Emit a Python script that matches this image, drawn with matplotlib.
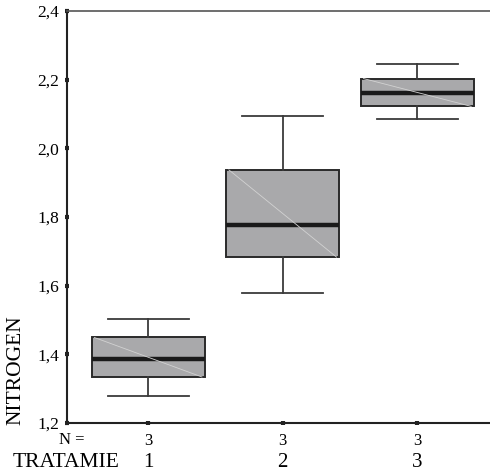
import matplotlib
matplotlib.use("Agg")
import matplotlib.pyplot as plt
import matplotlib.transforms as mtransforms

# boxplot values (SPSS style)
groups = ["1", "2", "3"]
n_counts = ["3", "3", "3"]
whisker_low = [1.28, 1.58, 2.084]
box_low = [1.334, 1.683, 2.122]
medians = [1.387, 1.778, 2.162]
box_high = [1.449, 1.937, 2.203]
whisker_high = [1.504, 2.095, 2.244]
y_ticks = [1.2, 1.4, 1.6, 1.8, 2.0, 2.2, 2.4]

plt.rcParams['font.family'] = ['Liberation Serif', 'DejaVu Serif']

fig = plt.figure(figsize=(4.9, 4.74), dpi=100)
ax = fig.add_axes([0.137, 0.1076, 0.863, 0.8694])

stats = []
for i, g in enumerate(groups):
    stats.append({
        'label': g,
        'whislo': whisker_low[i],
        'q1': box_low[i],
        'med': medians[i],
        'q3': box_high[i],
        'whishi': whisker_high[i],
        'fliers': [],
    })

positions = list(range(1, len(groups) + 1))
ax.bxp(stats, positions=positions, widths=0.84, patch_artist=True,
       showfliers=False,
       boxprops=dict(facecolor='#a9a9ab', edgecolor='#2a2a2a', linewidth=1.4),
       medianprops=dict(color='#1a1a1a', linewidth=3.2),
       whiskerprops=dict(color='#3a3a3a', linewidth=1.3),
       capprops=dict(color='#3a3a3a', linewidth=1.3),
       capwidths=0.6)

# faint diagonal line inside each box
for i, p in enumerate(positions):
    ax.plot([p - 0.4, p + 0.4], [box_high[i], box_low[i]],
            color='#d2d2d2', linewidth=0.6, zorder=3)

ax.set_xlim(0.398, 3.54)
ax.set_ylim(1.2, 2.4)
ax.set_yticks(y_ticks)
ax.set_yticklabels([f"{v:.1f}".replace('.', ',') for v in y_ticks], fontsize=12.5)
ax.set_xticks(positions)
ax.set_xticklabels(n_counts, fontsize=12)

ax.tick_params(axis='both', direction='inout', length=3, width=3,
               color='#222222')
ax.tick_params(axis='y', pad=4)
ax.tick_params(axis='x', pad=6)

ax.spines['right'].set_visible(False)
ax.spines['top'].set_color('#555555')
ax.spines['top'].set_linewidth(1.2)
ax.spines['left'].set_color('#222222')
ax.spines['left'].set_linewidth(1.5)
ax.spines['bottom'].set_color('#222222')
ax.spines['bottom'].set_linewidth(1.5)

ax.set_ylabel("NITROGEN", fontsize=15.5)
ax.yaxis.set_label_coords(-0.098, 0.128)

trans = mtransforms.blended_transform_factory(ax.transData, fig.transFigure)
for p, g in zip(positions, groups):
    ax.text(p, 0.024, g, transform=trans, ha='center', va='center', fontsize=15)
fig.text(0.026, 0.024, "TRATAMIE", ha='left', va='center', fontsize=15.5)
fig.text(0.172, 0.071, "N =", ha='right', va='center', fontsize=12)

fig.savefig("out.png", dpi=100)
